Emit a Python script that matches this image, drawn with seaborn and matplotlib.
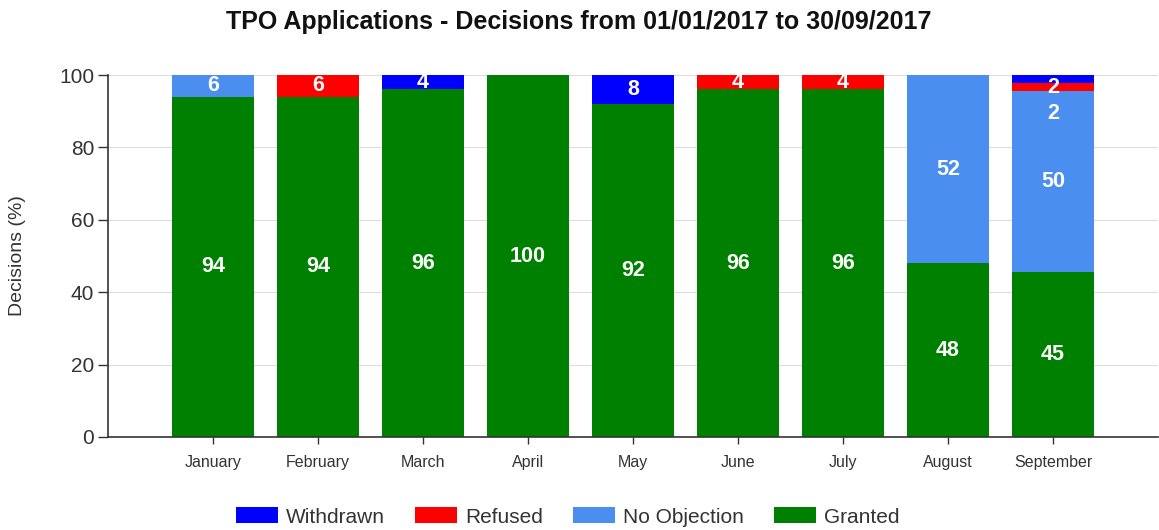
import matplotlib
matplotlib.use("Agg")
import matplotlib.pyplot as plt
from matplotlib.patches import Patch
import numpy as np
import pandas as pd
import seaborn as sns

months = ["January", "February", "March", "April", "May", "June", "July",
          "August", "September"]
granted = [94, 94, 96, 100, 92, 96, 96, 48, 45.45]
no_objection = [6, 0, 0, 0, 0, 0, 0, 52, 50.0]
refused = [0, 6, 0, 0, 0, 4, 4, 0, 2.27]
withdrawn = [0, 0, 4, 0, 8, 0, 0, 0, 2.27]

series = ["Granted", "No Objection", "Refused", "Withdrawn"]
colors = {"Withdrawn": "#0000ff", "Refused": "#ff0000",
          "No Objection": "#4a8ef0", "Granted": "#008000"}

sns.set_theme(style="white")
plt.rcParams["font.family"] = ["Liberation Sans", "DejaVu Sans"]

df = pd.DataFrame({"Month": months, "Granted": granted,
                   "No Objection": no_objection, "Refused": refused,
                   "Withdrawn": withdrawn})
cum = df[series].cumsum(axis=1)

fig = plt.figure(figsize=(11.59, 5.30), dpi=100)
ax = fig.add_axes([108 / 1159, 93 / 530, 1050 / 1159, 362 / 530])

# stacked bars: draw cumulative tops from the top series down
for name in reversed(series):
    sns.barplot(x=df["Month"], y=cum[name], color=colors[name], width=0.79,
                saturation=1, linewidth=0, edgecolor="none", ax=ax, zorder=2)

# value labels inside each segment
for i in range(len(months)):
    base = 0.0
    small_count = 0
    top_total = cum.iloc[i][series[-1]]
    segs = []
    for name in series:
        v = df.iloc[i][name]
        segs.append((name, base, v))
        base += v
    for name, b, v in reversed(segs):
        if v <= 0:
            continue
        y = b + v / 2
        if v < 3:
            y = top_total - 3.5 - 7 * small_count
            small_count += 1
        ax.text(i, y, f"{v:.0f}", ha="center", va="center", color="white",
                fontsize=15.5, fontweight="bold", zorder=4)

ax.set_xlim(-1, 9)
ax.set_ylim(0, 100)
ax.set_yticks([0, 20, 40, 60, 80, 100])
ax.set_xticks(range(len(months)))
ax.set_xticklabels(months, fontsize=11.5, color="#333333")
ax.tick_params(axis="y", labelsize=15, labelcolor="#333333", length=7,
               width=1, color="#333333", direction="out", left=True, pad=3)
ax.tick_params(axis="x", length=5, width=1, color="#333333", bottom=True,
               direction="out", pad=8)
ax.yaxis.grid(True, color="#dddddd", linewidth=0.8, zorder=0)
ax.set_axisbelow(True)
for s in ["top", "right"]:
    ax.spines[s].set_visible(False)
for s in ["left", "bottom"]:
    ax.spines[s].set_color("#333333")
    ax.spines[s].set_linewidth(1.2)
ax.set_xlabel("")
ax.set_ylabel("Decisions (%)", fontsize=14, color="#333333", labelpad=24)

fig.suptitle("TPO Applications - Decisions from 01/01/2017 to 30/09/2017",
             x=579 / 1159, y=1 - 22 / 530, va="center", fontsize=18,
             fontweight="bold", color="#111111")

handles = [Patch(facecolor=colors[n], edgecolor="none")
           for n in ["Withdrawn", "Refused", "No Objection", "Granted"]]
fig.legend(handles, ["Withdrawn", "Refused", "No Objection", "Granted"],
           loc="center", bbox_to_anchor=(568 / 1159, 1 - 517 / 530), ncol=4,
           frameon=False, fontsize=15, handlelength=2.0, handleheight=0.8,
           columnspacing=1.45, handletextpad=0.4, labelcolor="#333333")

fig.savefig("out.png", dpi=100)
